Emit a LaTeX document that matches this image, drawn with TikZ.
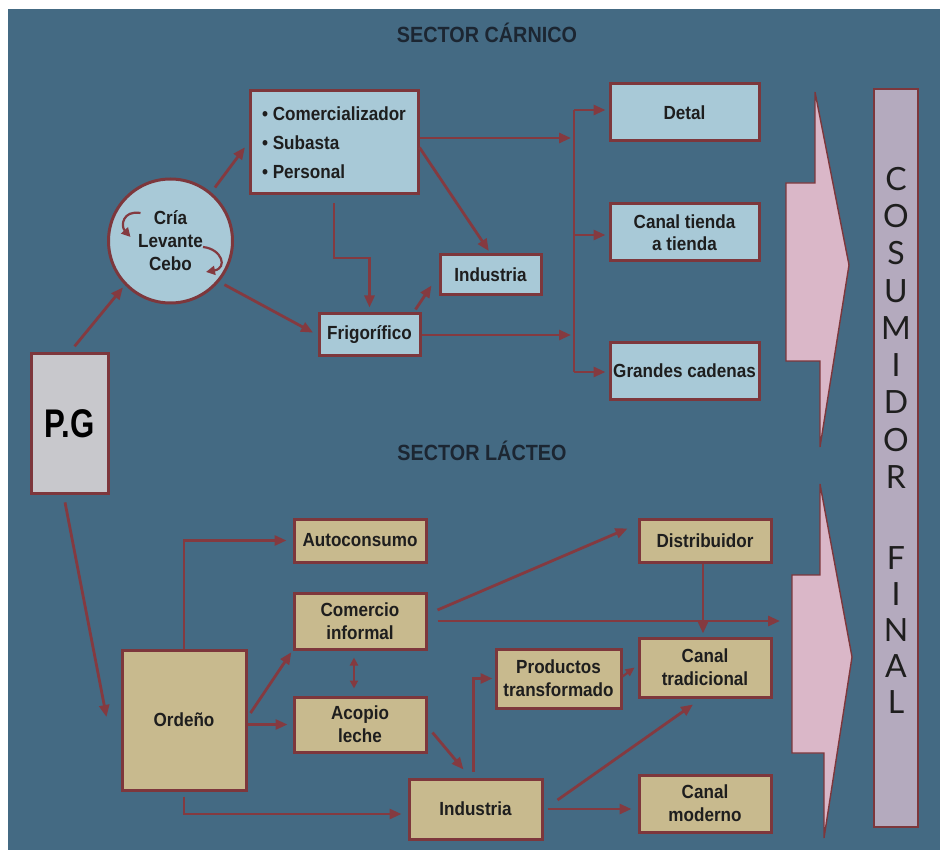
\documentclass[tikz,border=0pt]{standalone}
\usepackage{fontspec}
\setmainfont{Liberation Sans}[FakeStretch=0.9]
\newfontfamily\pgfnt{Liberation Sans}[FakeStretch=0.78]
\newfontfamily\consfnt{Lato}
\usetikzlibrary{arrows.meta,calc}
\definecolor{bgblue}{RGB}{68,106,131}
\definecolor{lblue}{RGB}{168,201,215}
\definecolor{bord}{RGB}{125,55,60}
\definecolor{arrc}{RGB}{132,58,64}
\definecolor{tanf}{RGB}{200,186,142}
\definecolor{pgrey}{RGB}{200,200,204}
\definecolor{pinkf}{RGB}{218,183,200}
\definecolor{lav}{RGB}{180,170,190}
\definecolor{hdc}{RGB}{28,38,50}
\definecolor{txt}{RGB}{30,30,30}
\begin{document}
\begin{tikzpicture}[x=1pt,y=-1pt,
  bx/.style={draw=bord, line width=3pt, fill=lblue, text=txt, inner sep=0pt, align=center,
    font=\fontsize{19}{23}\selectfont\bfseries},
  lbx/.style={bx, fill=tanf},
  hd/.style={text=hdc, font=\fontsize{22}{26}\selectfont\bfseries, anchor=base, inner sep=0pt},
  arr/.style={draw=arrc, line width=2.8pt, -{Triangle[length=12pt,width=10pt]}},
  plainline/.style={draw=arrc, line width=2.8pt},
  dblarr/.style={draw=arrc, line width=2.2pt, {Triangle[length=8pt,width=8pt]}-{Triangle[length=8pt,width=8pt]}},
  pinkarr/.style={draw=bord, line width=1.4pt, fill=pinkf, line join=miter},
  conslet/.style={text=txt, font=\consfnt\fontsize{32}{36}\selectfont, inner sep=0pt}
]
\useasboundingbox (0,0) rectangle (940,850);
\fill[white] (0,0) rectangle (940,850);
\fill[bgblue] (8,9) rectangle (940,850);

% headings
\node[hd] (h1) at (487,42.5) {SECTOR CÁRNICO};
\node[hd] (h2) at (482,460.5) {SECTOR LÁCTEO};

% pink arrows
\draw[pinkarr] (815,92) -- (815,183) -- (786,183) -- (786,361) -- (820,361) -- (820,447) -- (849,265) -- cycle;
\draw[pinkarr] (820,484) -- (820,575) -- (792,575) -- (792,753) -- (824,753) -- (824,838) -- (852,657) -- cycle;

% consumidor column
\node[draw=bord, line width=1.8pt, fill=lav, minimum width=44, minimum height=738, inner sep=0pt] (cons) at (896,458) {};
\foreach \l/\yy [count=\i] in {C/179,O/216,S/253.5,U/291,M/328,I/365,D/402.5,O/440,R/477,F/558,I/594,N/630,A/666,L/702}
  \node[conslet] (l\i) at (896,\yy) {\l};

% sector carnico nodes
\node[bx, fill=pgrey, minimum width=77, minimum height=139, font=\pgfnt\fontsize{40}{44}\selectfont\bfseries, text=black] (pg) at (69.5,423.5) {P.G};
\node[bx, circle, minimum size=124] (circ) at (170.5,241) {Cría\\Levante\\Cebo};
\node[bx, minimum width=168, minimum height=103, align=left, font=\fontsize{19}{29}\selectfont\bfseries] (com) at (334,142.5)
  {\textbullet\ Comercializador\\\textbullet\ Subasta\\\textbullet\ Personal};
\node[bx, minimum width=101, minimum height=42] (frig) at (369.5,335) {Frigorífico};
\node[bx, minimum width=101, minimum height=40] (indc) at (490.5,275) {Industria};
\node[bx, minimum width=149, minimum height=57] (detal) at (684.5,112.5) {Detal};
\node[bx, minimum width=149, minimum height=57, font=\fontsize{19}{22}\selectfont\bfseries] (tienda) at (684.5,232.5) {Canal tienda\\a tienda};
\node[bx, minimum width=149, minimum height=56] (grandes) at (684.5,371) {Grandes cadenas};

% sector lacteo nodes
\node[lbx, minimum width=124, minimum height=140] (ord) at (184,720) {Ordeño};
\node[lbx, minimum width=132, minimum height=43] (auto) at (360,540.5) {Autoconsumo};
\node[lbx, minimum width=132, minimum height=56] (cinf) at (360,621) {Comercio\\informal};
\node[lbx, minimum width=132, minimum height=55] (acop) at (360,724.5) {Acopio\\leche};
\node[lbx, minimum width=133, minimum height=60] (indl) at (475.5,809) {Industria};
\node[lbx, minimum width=125, minimum height=59] (prod) at (558.5,678.5) {Productos\\transformado};
\node[lbx, minimum width=132, minimum height=43] (dist) at (705,540.5) {Distribuidor};
\node[lbx, minimum width=132, minimum height=59] (ctrad) at (705,667.5) {Canal\\tradicional};
\node[lbx, minimum width=132, minimum height=57] (cmod) at (705,803.5) {Canal\\moderno};

% coordinates
\coordinate (elb) at (0,258);
\coordinate (in1) at (571,138);
\coordinate (in2) at (571,335);
\coordinate (b1) at (574,110);
\coordinate (b2) at (574,235);
\coordinate (b3) at (574,372);
\coordinate (lh) at (780,621);

% carnico connectors
\draw[arr, shorten <=8pt, shorten >=3pt] (pg.north) -- (circ.224);
\draw[arr, shorten <=6pt, shorten >=6pt] (circ.50) -- (com.west);
\draw[arr, shorten <=6pt, shorten >=5pt] (circ.-40) -- (frig.west);
\draw[arr, shorten <=8pt, shorten >=5pt] (com.south) -- (com.south |- elb) -| (frig.north);
\draw[arr, shorten >=3pt] ($(com.east)+(0,5)$) -- (indc.north);
\draw[arr] ($(frig.north east)+(-6,-3)$) -- ($(indc.south west)+(-7,-11)$);
\draw[arr] (com.east |- in1) -- (in1);
\draw[arr] (frig.east |- in2) -- (in2);
\draw[plainline] (b1) -- (b3);
\draw[arr, shorten >=3pt] (b1) -- (b1 -| detal.west);
\draw[arr, shorten >=3pt] (b2) -- (b2 -| tienda.west);
\draw[arr, shorten >=3pt] (b3) -- (b3 -| grandes.west);
% curly arrows inside the circle
\draw[arr, line width=2.2pt, -{Triangle[length=9pt,width=9pt]}]
  ($(circ.center)+(-30,-28)$) .. controls ($(circ.center)+(-48,-31)$) and ($(circ.center)+(-50,-15)$) .. ($(circ.center)+(-40,-4)$);
\draw[arr, line width=2.2pt, -{Triangle[length=9pt,width=9pt]}]
  ($(circ.center)+(32.5,6)$) .. controls ($(circ.center)+(51.5,8)$) and ($(circ.center)+(57.5,27)$) .. ($(circ.center)+(35.5,31)$);

% P.G to Ordeno
\draw[arr, shorten <=8pt] ($(pg.south)+(-6,0)$) -- ($(ord.west)+(-14,-3)$);

% lacteo connectors
\draw[arr, shorten >=6pt] (ord.north) |- (auto.west);
\draw[arr, shorten >=2pt] ($(ord.east)+(3,-7)$) -- (cinf.south west);
\draw[arr, shorten >=5pt] (ord.east |- acop.west) -- (acop.west);
\draw[dblarr, shorten <=7pt, shorten >=7pt] ($(cinf.south)+(-6,0)$) -- ($(acop.north)+(-6,0)$);
\draw[arr] ($(acop.east)+(5,8)$) -- ($(indl.north)+(-12,-8)$);
\draw[arr, shorten <=5pt, shorten >=6pt] (ord.south) |- ($(indl.west)+(0,5)$);
\draw[arr, shorten <=6pt, shorten >=2pt] ($(indl.north)+(-2,0)$) |- (prod.west);
\draw[arr, line width=2.2pt, -{Triangle[length=9pt,width=8pt]}] ($(prod.east)+(0,-2)$) -- ($(ctrad.west)+(-3,0)$);
\draw[arr] ($(indl.east)+(14,-9)$) -- ($(ctrad.south)+(-12,6)$);
\draw[arr, shorten <=4pt, shorten >=6pt] (indl.east) -- (indl.east -| cmod.west);
\draw[arr] ($(cinf.east)+(10,-11)$) -- ($(dist.west)+(-10,-12)$);
\draw[arr, shorten <=10pt] (cinf.east) -- (lh);
\draw[arr, shorten >=3pt] ($(dist.south)+(-2,0)$) -- ($(ctrad.north)+(-2,0)$);
\end{tikzpicture}
\end{document}
